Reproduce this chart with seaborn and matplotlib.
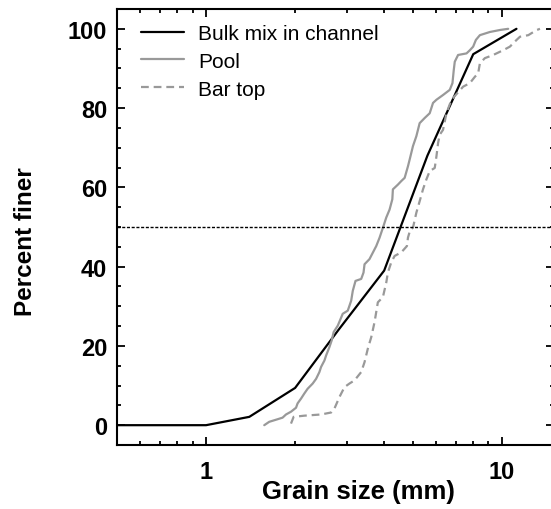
import matplotlib
matplotlib.use("Agg")
import matplotlib.pyplot as plt
import matplotlib.ticker as mticker
import numpy as np
import pandas as pd
import seaborn as sns

# Cumulative grain-size distributions (percent finer by grain size in mm)
bulk_size = [0.5, 1.0, 1.4, 2.0, 2.8, 4.0, 5.6, 8.0, 11.2]
bulk_finer = [0.0, 0.0, 2.1, 9.4, 24.0, 39.0, 68.0, 93.6, 100.0]

pool_size = [1.573, 1.635, 1.745, 1.814, 1.863, 1.937, 2.014, 2.039, 2.094, 2.149,
             2.205, 2.293, 2.355, 2.416, 2.448, 2.512, 2.546, 2.612, 2.659, 2.70,
             2.787, 2.897, 3.013, 3.094, 3.133, 3.200, 3.345, 3.406, 3.433, 3.568,
             3.761, 3.859, 3.981, 4.066, 4.172, 4.262, 4.281, 4.452, 4.571, 4.691,
             4.813, 4.877, 5.004, 5.138, 5.272, 5.483, 5.701, 5.850, 6.007, 6.324,
             6.664, 6.806, 6.875, 6.929, 7.110, 7.593, 7.792, 7.995, 8.167, 8.425,
             9.106, 9.845, 10.50]
pool_finer = [0.0, 0.85, 1.5, 1.9, 2.7, 3.4, 4.4, 5.5, 6.7, 8.0,
              9.2, 10.5, 11.7, 13.4, 14.7, 16.3, 17.6, 19.7, 21.4, 23.5,
              25.1, 28.1, 28.9, 31.4, 33.9, 36.4, 36.9, 38.5, 40.6, 41.9,
              45.2, 47.3, 50.3, 52.4, 54.4, 57.0, 59.5, 60.7, 61.6, 62.4,
              65.3, 67.0, 70.4, 72.9, 76.2, 77.5, 78.7, 81.3, 82.1, 83.3,
              84.6, 86.3, 89.6, 91.7, 93.4, 93.8, 94.6, 95.5, 97.2, 98.4,
              99.2, 99.7, 100.0]

bar_size = [1.937, 1.977, 2.149, 2.448, 2.647, 2.716, 2.824, 2.937, 3.052, 3.175,
            3.345, 3.433, 3.522, 3.617, 3.711, 3.808, 3.960, 4.066, 4.117, 4.227,
            4.339, 4.571, 4.775, 4.813, 4.904, 5.004, 5.138, 5.272, 5.411, 5.556,
            5.701, 5.929, 6.007, 6.085, 6.165, 6.324, 6.495, 6.752, 7.393, 7.792,
            8.103, 8.314, 8.425, 8.758, 9.344, 10.10, 10.64, 11.21, 11.51, 12.28,
            13.11, 13.45]
bar_finer = [0.4, 2.1, 2.4, 2.7, 3.2, 4.2, 7.1, 9.6, 10.5, 11.3,
             13.4, 15.9, 19.3, 22.2, 26.0, 31.0, 32.3, 36.0, 38.5, 41.1,
             42.7, 43.6, 45.2, 47.3, 49.4, 49.8, 53.6, 56.5, 59.5, 62.0,
             64.1, 64.9, 67.8, 71.2, 73.3, 74.5, 78.7, 82.1, 85.4, 86.3,
             87.9, 88.8, 91.3, 92.6, 93.4, 94.6, 95.5, 97.2, 98.0, 98.4,
             99.7, 100.0]

median_level = 50

sns.set_theme(style="ticks")
plt.rcParams["font.family"] = ["Liberation Sans", "DejaVu Sans"]
plt.rcParams.update({"text.color": "black", "axes.labelcolor": "black",
                     "xtick.color": "black", "ytick.color": "black"})

fig = plt.figure(figsize=(5.51, 5.10), dpi=100)
ax = fig.add_axes([117 / 551, 1 - 446 / 510, (554 - 117) / 551, (446 - 10) / 510])

gray = "#999999"
sns.lineplot(x=bulk_size, y=bulk_finer, ax=ax, color="black", lw=1.6,
             sort=False, estimator=None, label="Bulk mix in channel")
sns.lineplot(x=pool_size, y=pool_finer, ax=ax, color=gray, lw=1.6,
             sort=False, estimator=None, label="Pool")
sns.lineplot(x=bar_size, y=bar_finer, ax=ax, color=gray, lw=1.6,
             sort=False, estimator=None, label="Bar top")
ax.lines[-1].set_dashes((3.5, 2.2))

ax.axhline(median_level, color="black", lw=1.0, ls=(0, (2.2, 1.2)))

ax.set_xscale("log")
ax.set_xlim(0.5, 15)
ax.set_ylim(-5, 105)

ax.xaxis.set_major_locator(mticker.FixedLocator([1, 10]))
ax.xaxis.set_major_formatter(mticker.FixedFormatter(["1", "10"]))
ax.xaxis.set_minor_locator(mticker.LogLocator(base=10, subs=np.arange(2, 10)))
ax.xaxis.set_minor_formatter(mticker.NullFormatter())
ax.yaxis.set_major_locator(mticker.MultipleLocator(20))
ax.yaxis.set_minor_locator(mticker.MultipleLocator(5))

for s in ax.spines.values():
    s.set_visible(True)
    s.set_linewidth(1.5)
    s.set_color("black")

ax.tick_params(which="both", direction="in", top=True, right=True,
               color="black", width=1.3)
ax.tick_params(which="major", length=5.5, labelsize=17)
ax.tick_params(axis="x", which="major", pad=11)
ax.tick_params(axis="y", which="major", pad=7)
ax.tick_params(which="minor", length=3)
for lab in ax.get_xticklabels() + ax.get_yticklabels():
    lab.set_fontweight("bold")

ax.set_xlabel("Grain size (mm)", fontsize=18.5, fontweight="bold")
ax.set_ylabel("Percent finer", fontsize=17.5, fontweight="bold")
ax.xaxis.set_label_coords(0.552, -0.078)
ax.yaxis.set_label_coords(-0.182, 0.468)

leg = ax.legend(loc="upper left", bbox_to_anchor=(0.02, 1.0), frameon=False,
                fontsize=15, handlelength=2.1, handletextpad=0.65,
                labelspacing=0.42, borderaxespad=0.32)

fig.savefig("out.png", dpi=100)
